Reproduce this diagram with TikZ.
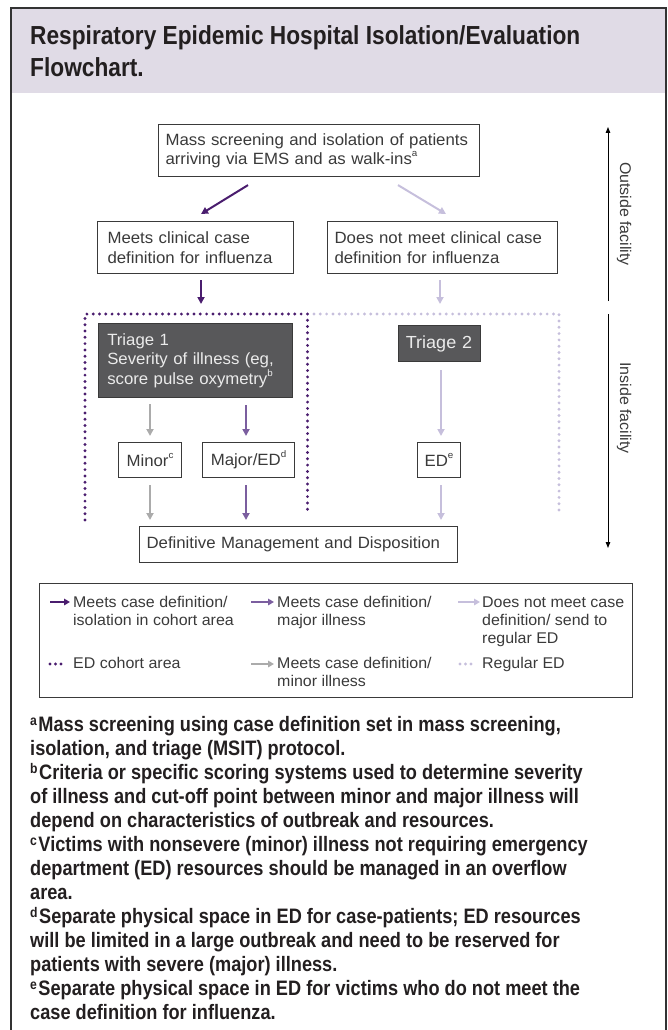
\documentclass[tikz,border=0pt]{standalone}
\usepackage{fontspec}
\setmainfont{Liberation Sans}
\newfontfamily\dfont[FakeStretch=1.03]{Liberation Sans}
\newfontfamily\cfont[FakeStretch=0.87]{Liberation Sans}
\usetikzlibrary{arrows.meta,calc}
\definecolor{dpurple}{HTML}{4A1D6E}
\definecolor{mpurple}{HTML}{7B5E9F}
\definecolor{lav}{HTML}{C6BFDC}
\definecolor{lgray}{HTML}{ABABAB}
\definecolor{bandc}{HTML}{E0DBE6}
\definecolor{tri}{HTML}{58585A}
\definecolor{txt}{HTML}{3A3A3A}
\definecolor{framec}{HTML}{333333}
\definecolor{ink}{HTML}{231F20}
\newcommand\bxfont{\dfont\fontsize{16.3}{19.5}\selectfont\hyphenpenalty=10000\exhyphenpenalty=10000}
\newcommand\lgfont{\dfont\fontsize{15.5}{18}\selectfont}
\newcommand\sps[1]{\raisebox{0.5em}{\fontsize{9.5}{9.5}\selectfont #1}}
\newcommand\fsup[1]{\raisebox{6pt}{\fontsize{14}{14}\selectfont\bfseries #1}\kern1.5pt}
\tikzset{
  fbox/.style={draw=txt, line width=1.1pt, fill=white, anchor=north west, inner ysep=0pt, font=\bxfont, text=txt},
  darkbox/.style={draw=txt, line width=1pt, fill=tri, anchor=north west, inner ysep=0pt, font=\bxfont, text=white!92!black},
  arr/.style={line width=2pt, -{Triangle[length=7pt,width=7pt]}},
  larr/.style={line width=2.4pt, -{Triangle[length=6pt,width=6.5pt]}},
  sidearr/.style={line width=1pt, black, -{Triangle[length=6pt,width=4.5pt]}},
  pdot/.style={dpurple, line width=3.2pt, line cap=round, dash pattern=on 0pt off 6.3pt},
  ldot/.style={lav, line width=3.2pt, line cap=round, dash pattern=on 0pt off 6.3pt},
  lgdot/.style={line width=3.2pt, line cap=round, dash pattern=on 0pt off 5.5pt},
  lgtext/.style={anchor=base west, inner sep=0pt, font=\lgfont, text=txt},
}
\begin{document}
\begin{tikzpicture}[x=1pt,y=-1pt]
\useasboundingbox (0,0) rectangle (668,1030);
% header band and frame
\fill[bandc] (11,8) rectangle (666,93);
\node[anchor=base west, inner sep=0pt, text=ink] (title) at (30,45)
  {\parbox[t]{620pt}{\cfont\bfseries\fontsize{26.1}{32}\selectfont
   Respiratory Epidemic Hospital Isolation/Evaluation\\Flowchart.}};

% dotted areas
\draw[ldot] (314,314) -- (559,314) -- (559,516);
\draw[pdot] (85,520) -- (85,314) -- (307.5,314) -- (307.5,512);

% boxes
\node[fbox, minimum height=52pt, text width=307pt, inner xsep=7pt, align=left] (b1) at (158,124)
  {Mass screening and isolation of patients\\arriving via EMS and as walk-ins\sps{a}};
\node[fbox, minimum height=52pt, text width=176pt, inner xsep=10pt, align=left] (meets) at (97,221)
  {Meets clinical case\\definition for influenza};
\node[fbox, minimum height=52pt, text width=216pt, inner xsep=7pt, align=left] (nmeet) at (327,221)
  {Does not meet clinical case\\definition for influenza};
\node[darkbox, minimum height=74pt, text width=176pt, inner xsep=9.25pt, align=left] (t1) at (97.5,323)
  {Triage 1\\Severity of illness (eg,\\score pulse oxymetry\sps{b}};
\node[darkbox, minimum height=36pt, text width=72pt, inner xsep=5pt, align=center, font=\dfont\fontsize{17.5}{20}\selectfont] (t2) at (397.5,325)
  {Triage 2};
\node[fbox, minimum height=35pt, text width=57pt, inner xsep=3pt, align=center] (minor) at (118,442)
  {Minor\sps{c}};
\node[fbox, minimum height=35pt, text width=86pt, inner xsep=3pt, align=center] (major) at (202,442)
  {Major/ED\sps{d}};
\node[fbox, minimum height=35pt, text width=37pt, inner xsep=3pt, align=center] (ed) at (417,442)
  {ED\sps{e}};
\node[fbox, minimum height=36pt, text width=304pt, inner xsep=7pt, align=left] (def) at (139,526)
  {Definitive Management and Disposition};

% connectors
\draw[arr, dpurple] ($(b1.south west)+(90,8)$) -- ($(meets.north west)+(104,-7)$);
\draw[arr, lav] ($(b1.south west)+(240,8)$) -- ($(nmeet.north west)+(119,-7)$);
\draw[arr, dpurple] ($(meets.south west)+(104,6)$) -- ($(t1.north west)+(103.5,-19)$);
\draw[arr, lav] ($(nmeet.south west)+(113,6)$) -- ($(t2.north west)+(42.5,-21)$);
\draw[arr, lgray] ($(t1.south west)+(52.5,6)$) -- ($(minor.north west)+(32,-6)$);
\draw[arr, mpurple] ($(t1.south west)+(148.5,7)$) -- ($(major.north west)+(44,-6)$);
\draw[arr, lav] ($(t2.south west)+(43.5,8)$) -- ($(ed.north west)+(24,-6)$);
\draw[arr, lgray] ($(minor.south west)+(32,7)$) -- ($(def.north west)+(11,-6)$);
\draw[arr, mpurple] ($(major.south west)+(44,7)$) -- ($(def.north west)+(107,-6)$);
\draw[arr, lav] ($(ed.south west)+(24,7)$) -- ($(def.north west)+(302,-6)$);

% outside / inside facility
\coordinate (sidemid1) at (608,301);
\coordinate (sidetop) at (608,127);
\coordinate (sidemid2) at (608,314);
\coordinate (sidebot) at (608,548);
\draw[sidearr] (sidemid1) -- (sidetop);
\draw[sidearr] (sidemid2) -- (sidebot);
\node[rotate=-90, font=\lgfont, text=txt, inner sep=0pt] (outl) at (624,214) {Outside facility};
\node[rotate=-90, font=\lgfont, text=txt, inner sep=0pt] (inl) at (624,408) {Inside facility};

% legend
\node[draw=txt, line width=1.1pt, anchor=north west, minimum width=593pt, minimum height=114pt, inner sep=0pt] (legend) at (39,583) {};
\draw[larr, dpurple] ($(legend.north west)+(11,19)$) -- ($(legend.north west)+(31,19)$);
\node[lgtext] (lg1) at (73,607) {\parbox[t]{175pt}{Meets case definition/\\isolation in cohort area}};
\draw[larr, mpurple] ($(legend.north west)+(212,19)$) -- ($(legend.north west)+(235,19)$);
\node[lgtext] (lg2) at (277,607) {\parbox[t]{180pt}{Meets case definition/\\major illness}};
\draw[larr, lav] ($(legend.north west)+(419,19)$) -- ($(legend.north west)+(441,19)$);
\node[lgtext] (lg3) at (482,607) {\parbox[t]{145pt}{Does not meet case\\definition/ send to\\regular ED}};
\draw[lgdot, dpurple] ($(legend.north west)+(11,81)$) -- ($(legend.north west)+(22,81)$);
\node[lgtext] (lg4) at (73,668) {ED cohort area};
\draw[larr, lgray] ($(legend.north west)+(212,81)$) -- ($(legend.north west)+(235,81)$);
\node[lgtext] (lg5) at (277,668) {\parbox[t]{180pt}{Meets case definition/\\minor illness}};
\draw[lgdot, lav] ($(legend.north west)+(421,81)$) -- ($(legend.north west)+(432,81)$);
\node[lgtext] (lg6) at (482,668) {Regular ED};

% footnotes
\node[anchor=base west, inner sep=0pt, text=ink] (notes) at (30,731)
  {\parbox[t]{630pt}{\cfont\bfseries\fontsize{20.9}{24}\selectfont
  \fsup{a}Mass screening using case definition set in mass screening,\\
  isolation, and triage (MSIT) protocol.\\
  \fsup{b}Criteria or specific scoring systems used to determine severity\\
  of illness and cut-off point between minor and major illness will\\
  depend on characteristics of outbreak and resources.\\
  \fsup{c}Victims with nonsevere (minor) illness not requiring emergency\\
  department (ED) resources should be managed in an overflow\\
  area.\\
  \fsup{d}Separate physical space in ED for case-patients; ED resources\\
  will be limited in a large outbreak and need to be reserved for\\
  patients with severe (major) illness.\\
  \fsup{e}Separate physical space in ED for victims who do not meet the\\
  case definition for influenza.}};

% outer frame
\draw[framec, line width=2.6pt] (11,1060) -- (11,8) -- (666,8) -- (666,1060);
\end{tikzpicture}
\end{document}
